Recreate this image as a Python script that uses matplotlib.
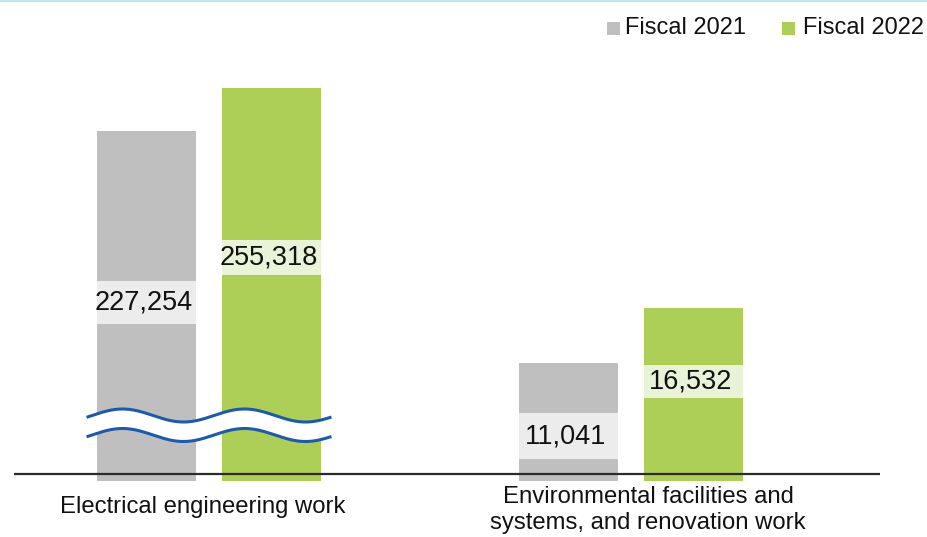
import numpy as np
import matplotlib.pyplot as plt
from matplotlib.patches import Rectangle

plt.rcParams['font.family'] = ['Liberation Sans', 'DejaVu Sans']

categories = ["Electrical engineering work",
              "Environmental facilities and\nsystems, and renovation work"]
series = ["Fiscal 2021", "Fiscal 2022"]
values_2021 = [227254, 11041]
values_2022 = [255318, 16532]
colors = ['#bfbfbf', '#adcf58']
box_colors = ['#ececec', '#e9f3d7']

# broken axis: big values squeezed above this
BREAK_AT = 100000
def squash(v):
    if v > BREAK_AT:
        return 30063 + (v - 200000) * 0.1529
    return v

W, H = 927, 537
UNIT = 99.8          # value units per pixel
BASE_PX = 474        # pixel row of the zero line
GROUP_PX = 209       # first group centre
STEP_PX = 422        # spacing between groups

def px_x(px):
    return (px - GROUP_PX) / STEP_PX

def px_h(p):
    return p * UNIT

fig = plt.figure(figsize=(W / 100, H / 100), dpi=100)
ax = fig.add_axes([0, 0, 1, 1])
ax.set_xlim(px_x(0), px_x(W))
ax.set_ylim(-(H - BASE_PX) * UNIT, BASE_PX * UNIT)
ax.axis('off')

x = np.arange(len(categories))
bw = 99 / STEP_PX
off = 62.5 / STEP_PX
below = px_h(7)

label_frac = [[0.50, 0.56], [0.34, 0.56]]
box_px = [[43, 35], [46, 33]]

for s, vals in enumerate([values_2021, values_2022]):
    xs = x + (off if s else -off)
    tops = [squash(v) for v in vals]
    ax.bar(xs, [t + below for t in tops], bottom=-below, width=bw,
           color=colors[s], zorder=1)
    for i, (xi, t, v) in enumerate(zip(xs, tops, vals)):
        yc = t * label_frac[i][s]
        hb = px_h(box_px[i][s])
        ax.add_patch(Rectangle((xi - bw / 2, yc - hb / 2), bw, hb,
                               color=box_colors[s], zorder=2, lw=0))
        ax.text(xi - 3 / STEP_PX, yc, f"{v:,}", ha='center', va='center',
                fontsize=19.5, color='#111111', zorder=3)

# break marks across the first group
xx = np.linspace(88, 330, 300)
y_up = 415.5 - 6.5 * np.sin(2 * np.pi * (xx - 92) / 122)
y_lo = y_up + 19.5
ax.fill_between(px_x(xx), (BASE_PX - y_up) * UNIT, (BASE_PX - y_lo) * UNIT,
                color='white', zorder=4, lw=0)
for yy in (y_up, y_lo):
    ax.plot(px_x(xx), (BASE_PX - yy) * UNIT, color='#1d5ba8', lw=2.2, zorder=5)

# zero line
ax.plot([px_x(14), px_x(880)], [0, 0], color='#2b2b2b', lw=1.6, zorder=6,
        solid_capstyle='butt')

# category labels
ax.text(px_x(203), (BASE_PX - 507) * UNIT, categories[0], ha='center',
        va='center', fontsize=17.2, color='#111111')
ax.text(px_x(648), (BASE_PX - 510) * UNIT, categories[1], ha='center',
        va='center', fontsize=17.2, color='#111111', linespacing=1.25)

# legend
for s, (sx, tx) in enumerate([(607, 625), (782, 803)]):
    ax.add_patch(Rectangle((px_x(sx), (BASE_PX - 35) * UNIT), 13 / STEP_PX,
                           px_h(13), color=colors[s], lw=0))
    ax.text(px_x(tx), (BASE_PX - 28) * UNIT, series[s], ha='left',
            va='center', fontsize=17, color='#111111')

# thin rule at the top
ax.plot([px_x(0), px_x(W)], [(BASE_PX - 0.5) * UNIT] * 2, color='#bde6f8',
        lw=1.5)

fig.savefig('out.png', dpi=100)
